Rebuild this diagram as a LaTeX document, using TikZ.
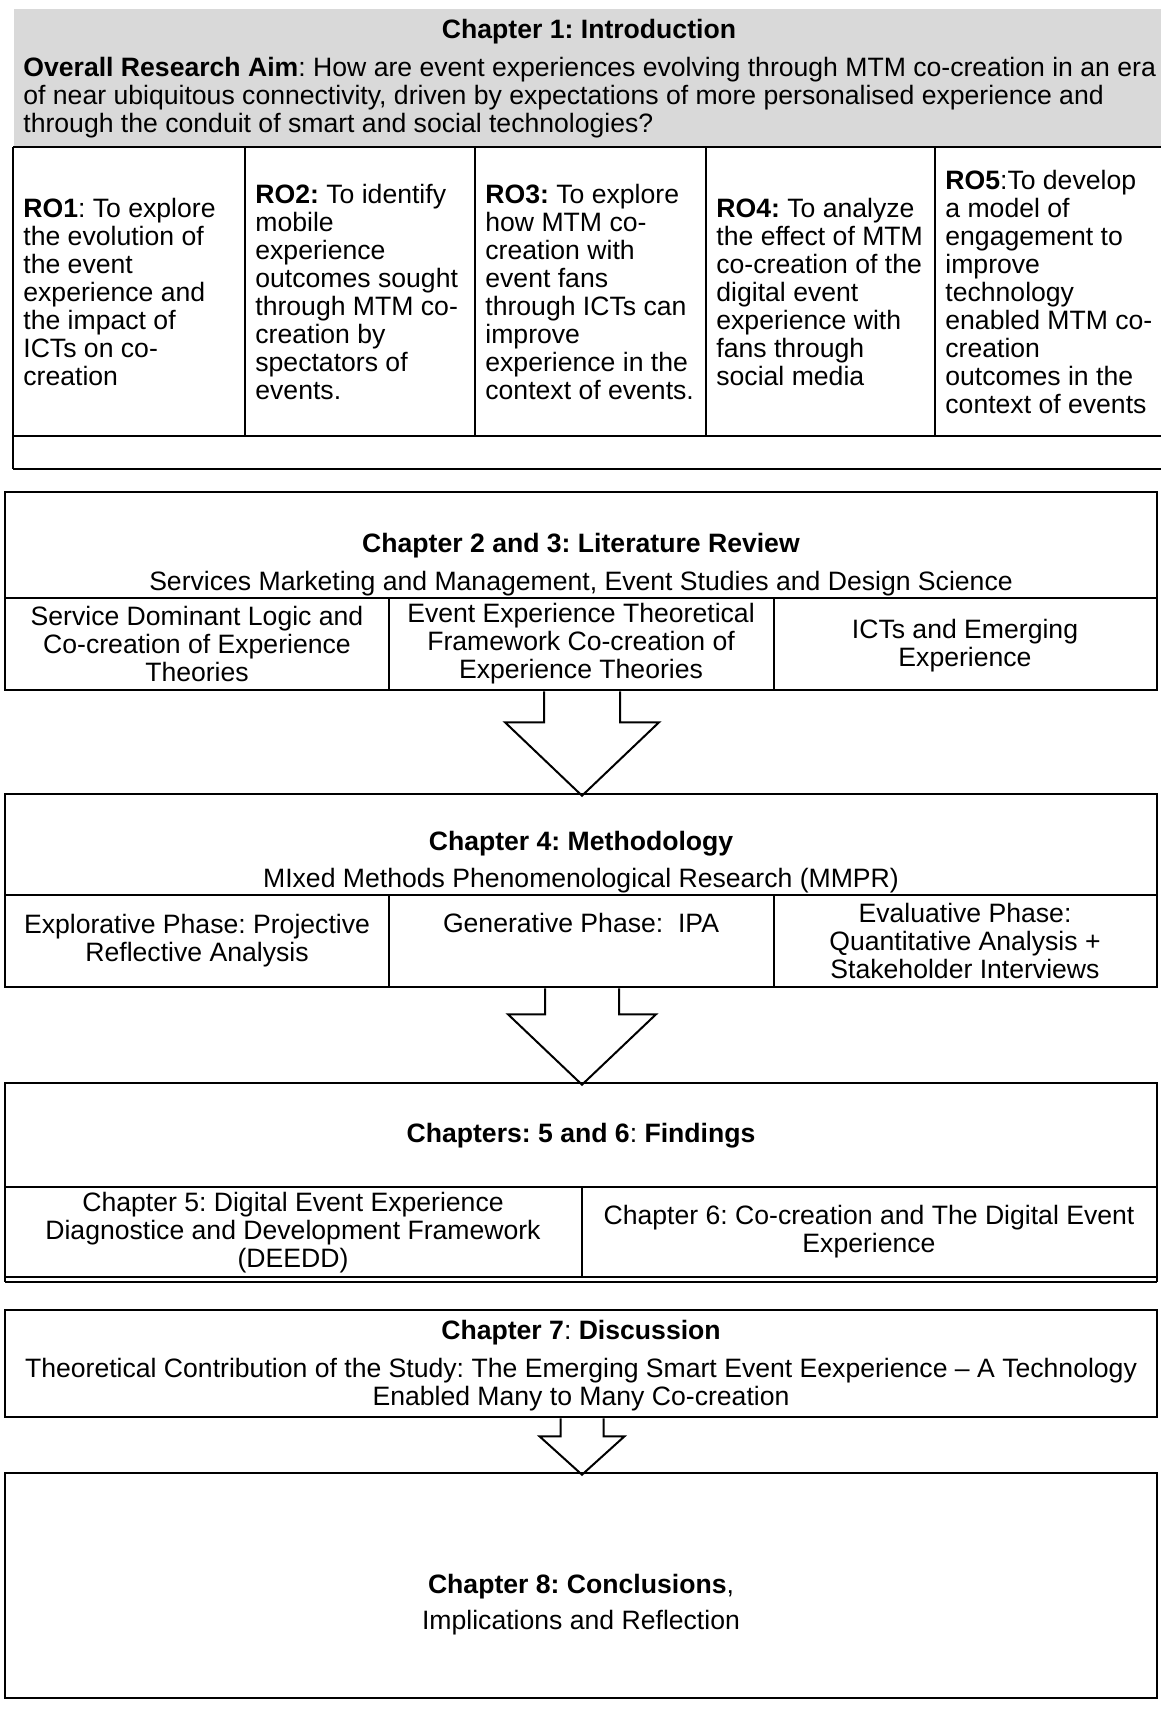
\documentclass[tikz,border=0pt]{standalone}
\usepackage{fontspec}
\setmainfont{Liberation Sans}
\usetikzlibrary{calc,fit}
\definecolor{headgray}{HTML}{D9D9D9}

% block arrow from the bottom of one box to the top of the next:
% #1 source node, #2 target node, #3 shaft half width, #4 head half width, #5 shaft length
\newcommand\drawblockarrow[5]{%
  \draw[blockarrow] ($(#1.south)+(1-#3,0)$) -- ++(0,#5) -- ++(#3-#4,0)
    -- ($(#2.north)+(1,3)$) -- ($(#1.south)+(1+#4,#5)$) -- ++(#3-#4,0) -- ++(0,-#5);
}

\begin{document}
\begin{tikzpicture}[x=0.5pt,y=-0.5pt,
  txt/.style={inner sep=0pt, font=\fontsize{13.3}{14}\selectfont\frenchspacing},
  lt/.style={txt, align=left, anchor=west},
  ct/.style={txt, align=center},
  frame/.style={draw=black, line width=1.3pt, inner sep=0pt},
  rule/.style={line width=1pt},
  heavy/.style={line width=1.4pt},
  blockarrow/.style={draw=black, line width=1pt, line join=miter}
]
\useasboundingbox (0,0) rectangle (1161,1729);

% ---------- Chapter 1: header band and research objectives ----------
\fill[headgray] (14,9) rectangle (1161,147);
\node[ct] (c1title) at (589,32) {\textbf{Chapter 1: Introduction}};
\node[lt] (aim) at (23,98) {\textbf{Overall Research Aim}: How are event experiences evolving through MTM co-creation in an era\\of near ubiquitous connectivity, driven by expectations of more personalised experience and\\through the conduit of smart and social technologies?};

\draw[heavy] (13,147) -- (1161,147);
\draw[rule] (13,436) -- (1161,436);
\draw[heavy] (13,469) -- (1161,469);
\draw[heavy] (13,147) -- (13,469);
\foreach \x in {245,475,706,935} \draw[rule] (\x,147) -- (\x,436);

\node[lt] (ro1) at (23,292) {\textbf{RO1}: To explore\\the evolution of\\the event\\experience and\\the impact of\\ICTs on co-\\creation};
\node[lt] (ro2) at (255,292) {\textbf{RO2:} To identify\\mobile\\experience\\outcomes sought\\through MTM co-\\creation by\\spectators of\\events.};
\node[lt] (ro3) at (485,292) {\textbf{RO3:} To explore\\how MTM co-\\creation with\\event fans\\through ICTs can\\improve\\experience in the\\context of events.};
\node[lt] (ro4) at (716,292) {\textbf{RO4:} To analyze\\the effect of MTM\\co-creation of the\\digital event\\experience with\\fans through\\social media};
\node[lt] (ro5) at (945,292) {\textbf{RO5}:To develop\\a model of\\engagement to\\improve\\technology\\enabled MTM co-\\creation\\outcomes in the\\context of events};

% ---------- Chapters 2 and 3 ----------
\node[frame, fit={(5,492) (1157,690)}] (lit) {};
\draw[rule] (5,598) -- (1157,598);
\draw[rule] (389,598) -- (389,690);
\draw[rule] (774,598) -- (774,690);
\node[ct] (littitle) at (581,546) {\textbf{Chapter 2 and 3: Literature Review}};
\node[ct] (litsub) at (581,584) {Services Marketing and Management, Event Studies and Design Science};
\node[ct] (sdl) at (197,644) {Service Dominant Logic and\\Co-creation of Experience\\Theories};
\node[ct] (eetf) at (581,644) {Event Experience Theoretical\\Framework Co-creation of\\Experience Theories};
\node[ct] (icts) at (965,646) {ICTs and Emerging\\Experience};

% ---------- Chapter 4 ----------
\node[frame, fit={(5,794) (1157,987)}] (meth) {};
\draw[rule] (5,895) -- (1157,895);
\draw[rule] (389,895) -- (389,987);
\draw[rule] (774,895) -- (774,987);
\node[ct] (methtitle) at (581,844) {\textbf{Chapter 4: Methodology}};
\node[ct] (methsub) at (581,881) {MIxed Methods Phenomenological Research (MMPR)};
\node[ct] (explo) at (197,941) {Explorative Phase: Projective\\Reflective Analysis};
\node[ct] (gener) at (581,923) {Generative Phase:\ \ IPA};
\node[ct] (evalu) at (965,941) {Evaluative Phase:\\Quantitative Analysis +\\Stakeholder Interviews};

% ---------- Chapters 5 and 6 ----------
\node[frame, fit={(5,1083) (1157,1277)}] (find) {};
\draw[heavy] (5,1282) -- (1157,1282);
\draw[heavy] (5,1277) -- (5,1282);
\draw[heavy] (1157,1277) -- (1157,1282);
\draw[rule] (5,1187) -- (1157,1187);
\draw[rule] (582,1187) -- (582,1277);
\node[ct] (findtitle) at (581,1136) {\textbf{Chapters: 5 and 6}: \textbf{Findings}};
\node[ct] (deedd) at (293,1233) {Chapter 5: Digital Event Experience\\Diagnostice and Development Framework\\(DEEDD)};
\node[ct] (cocr) at (869,1232) {Chapter 6: Co-creation and The Digital Event\\Experience};

% ---------- Chapter 7 ----------
\node[frame, fit={(5,1310) (1157,1417)}] (disc) {};
\node[ct] (disctitle) at (581,1333) {\textbf{Chapter 7}: \textbf{Discussion}};
\node[ct] (disctext) at (581,1385) {Theoretical Contribution of the Study: The Emerging Smart Event Eexperience – A Technology\\Enabled Many to Many Co-creation};

% ---------- Chapter 8 ----------
\node[frame, fit={(5,1473) (1157,1698)}] (concl) {};
\node[ct] (concltitle) at (581,1587) {\textbf{Chapter 8: Conclusions},};
\node[ct] (conclsub) at (581,1623) {Implications and Reflection};

% ---------- flow arrows ----------
\drawblockarrow{lit}{meth}{38}{77}{31}
\drawblockarrow{meth}{find}{37}{74}{26}
\drawblockarrow{disc}{concl}{21.5}{42.5}{18}

\end{tikzpicture}
\end{document}
